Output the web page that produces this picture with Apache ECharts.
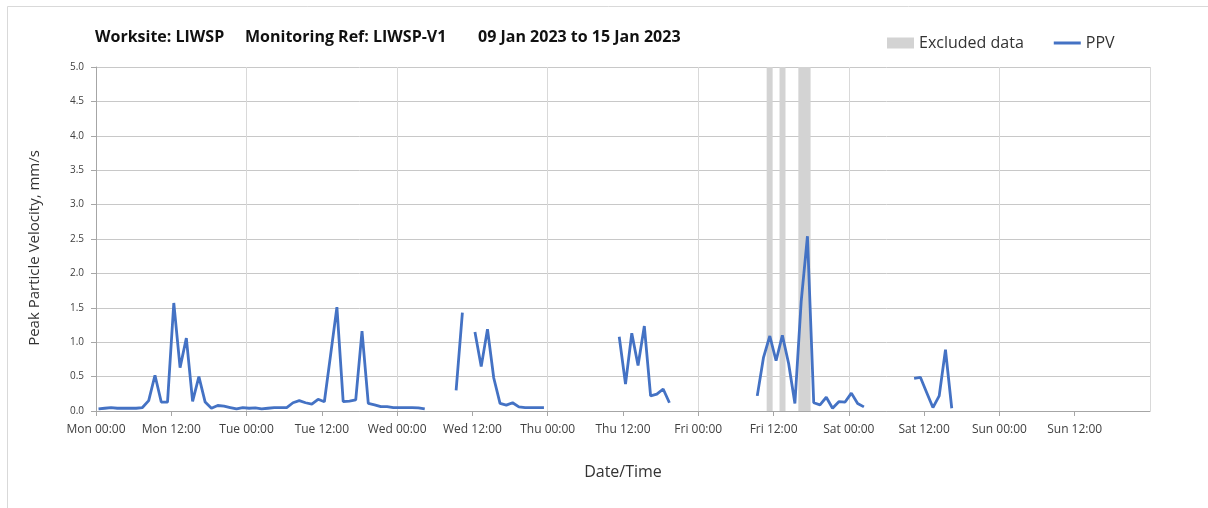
<!DOCTYPE html>
<html>
<head>
<meta charset="utf-8">
<script src="https://cdn.jsdelivr.net/npm/echarts@6/dist/echarts.min.js"></script>
<style>
html,body{margin:0;padding:0;background:#fff;}
#chart{width:1208px;height:508px;}
</style>
</head>
<body>
<div id="chart"></div>
<script>
// Hourly PPV (mm/s), one array per day, hour 0..23; null = no data
const dayNames = ['Mon', 'Tue', 'Wed', 'Thu', 'Fri', 'Sat', 'Sun'];
const hourOffset = 0.4; // readings sit ~24 min past each hour
const monPPV = [0.03,0.04,0.05,0.04,0.04,0.04,0.04,0.05,0.15,0.52,0.13,0.13,1.57,0.63,1.06,0.14,0.50,0.13,0.04,0.08,0.07,0.05,0.03,0.05];
const tuePPV = [0.04,0.045,0.03,0.04,0.05,0.05,0.05,0.12,0.15,0.12,0.10,0.17,0.135,0.82,1.51,0.135,0.145,0.16,1.16,0.11,0.09,0.065,0.065,0.05];
const wedPPV = [0.05,0.05,0.05,0.045,0.03,null,null,null,null,0.30,1.43,null,1.15,0.645,1.19,0.48,0.11,0.085,0.12,0.06,0.05,0.05,0.05,0.05];
const thuPPV = [null,null,null,null,null,null,null,null,null,null,null,1.08,0.39,1.13,0.66,1.235,0.22,0.245,0.32,0.12,null,null,null,null];
const friPPV = [null,null,null,null,null,null,null,null,null,0.22,0.78,1.09,0.73,1.10,0.69,0.11,1.59,2.54,0.12,0.09,0.20,0.04,0.135,0.13];
const satPPV = [0.26,0.11,0.06,null,null,null,null,null,null,null,0.475,0.49,0.27,0.05,0.22,0.89,0.04,null,null,null,null,null,null,null];
const sunPPV = [null,null,null,null,null,null,null,null,null,null,null,null,null,null,null,null,null,null,null,null,null,null,null,null];
// Excluded data periods (hours since Mon 00:00)
const excludedStart = [106.9, 108.95, 111.95];
const excludedEnd   = [107.85, 109.9, 113.9];

const days = [monPPV, tuePPV, wedPPV, thuPPV, friPPV, satPPV, sunPPV];
const ppvData = [];
days.forEach((arr, d) => arr.forEach((v, h) => ppvData.push([d * 24 + h + hourOffset, v])));

const FONT = '"Open Sans", "Noto Sans", sans-serif';
const titleStyle = {fontFamily: FONT, fontSize: 16, fontWeight: 'bold', color: '#111'};
const chart = echarts.init(document.getElementById('chart'), null, {renderer: 'canvas'});
chart.setOption({
  animation: false,
  backgroundColor: '#fff',
  textStyle: {fontFamily: FONT},
  title: [
    {text: 'Worksite: LIWSP', left: 90, top: 24, textStyle: titleStyle},
    {text: 'Monitoring Ref: LIWSP-V1', left: 240, top: 24, textStyle: titleStyle},
    {text: '09 Jan 2023 to 15 Jan 2023', left: 473, top: 24, textStyle: titleStyle}
  ],
  legend: {
    left: 882, top: 30,
    itemWidth: 27, itemHeight: 11, itemGap: 30,
    textStyle: {fontFamily: FONT, fontSize: 16, color: '#333'},
    data: [
      {name: 'Excluded data', icon: 'rect'},
      {name: 'PPV', icon: 'path://M0,0 L27,0 L27,3 L0,3 Z'}
    ]
  },
  graphic: [{
    type: 'rect', left: 5, top: 4, silent: true, z: -10,
    shape: {width: 1230, height: 540},
    style: {fill: 'none', stroke: '#d9d9d9', lineWidth: 1}
  }, {
    type: 'text', x: 35, y: 248, rotation: Math.PI / 2, silent: true,
    style: {text: 'Peak Particle Velocity, mm/s', fontFamily: FONT, fontSize: 15, fill: '#333',
      align: 'center', verticalAlign: 'middle'}
  }],
  grid: {left: 96, right: 58, top: 67, bottom: 97, containLabel: false},
  xAxis: [{
    type: 'value', min: 0, max: 168, interval: 12,
    name: 'Date/Time', nameLocation: 'middle', nameGap: 53,
    nameTextStyle: {fontFamily: FONT, fontSize: 16, color: '#333'},
    axisLine: {lineStyle: {color: '#a6a6a6', width: 1}},
    axisTick: {show: true, length: 5, lineStyle: {color: '#a6a6a6'}},
    axisLabel: {
      margin: 13, fontSize: 12, color: '#404040', fontFamily: FONT, showMaxLabel: false,
      formatter: v => v >= 168 ? '' : dayNames[Math.floor(v / 24)] + (v % 24 === 0 ? ' 00:00' : ' 12:00')
    },
    splitLine: {show: false}
  }, {
    type: 'value', min: 0, max: 168, interval: 24, position: 'bottom',
    axisLine: {show: false}, axisTick: {show: false}, axisLabel: {show: false},
    splitLine: {show: true, lineStyle: {color: '#d9d9d9', width: 1}}
  }],
  yAxis: {
    type: 'value', min: 0, max: 5, interval: 0.5,
    axisLine: {show: true, lineStyle: {color: '#a6a6a6'}},
    axisTick: {show: true, length: 5, lineStyle: {color: '#a6a6a6'}},
    axisLabel: {margin: 12, fontSize: 10, color: '#404040', fontFamily: FONT,
      formatter: v => v.toFixed(1)},
    splitLine: {show: true, lineStyle: {color: '#c8c8c8', width: 1}}
  },
  series: [{
    name: 'Excluded data', type: 'line', data: [], xAxisIndex: 0,
    itemStyle: {color: '#d3d3d3'}, lineStyle: {color: '#d3d3d3'},
    markArea: {
      silent: true,
      itemStyle: {color: '#d3d3d3'},
      data: excludedStart.map((s, i) => [{xAxis: s}, {xAxis: excludedEnd[i]}])
    }
  }, {
    name: 'PPV', type: 'line', xAxisIndex: 0, data: ppvData,
    symbol: 'none', showSymbol: false, connectNulls: false,
    lineStyle: {color: '#4472C4', width: 2.8},
    itemStyle: {color: '#4472C4'}, z: 5
  }]
});
</script>
</body>
</html>
